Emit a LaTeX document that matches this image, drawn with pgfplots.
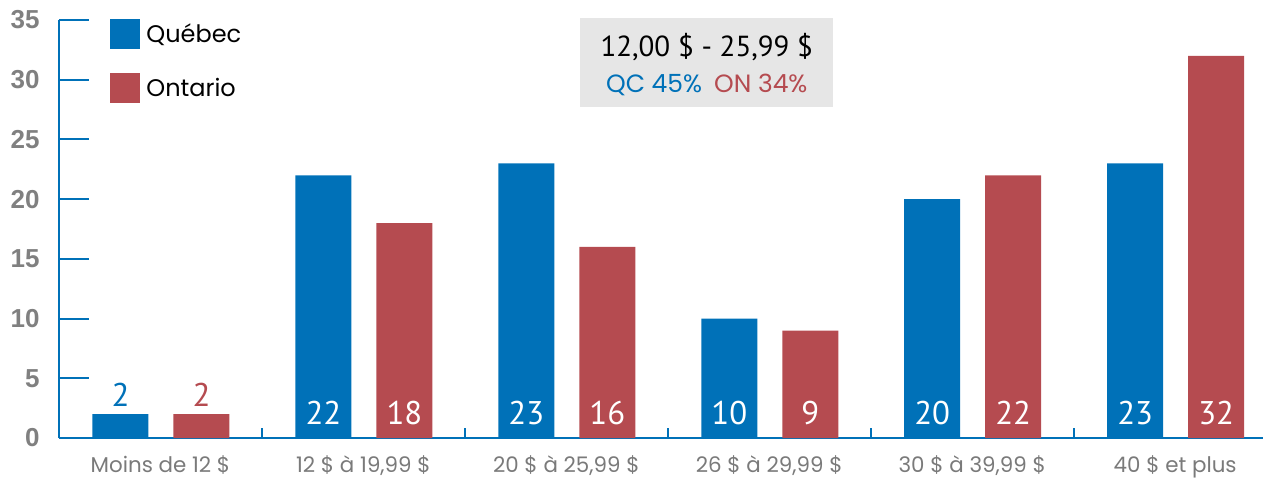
\documentclass[border=0pt]{standalone}
\usepackage{fontspec}
\setmainfont{Poppins}
\newfontfamily\ptsans{PT Sans}
\newfontfamily\tickfont{Liberation Sans}
\usepackage{pgfplots}
\pgfplotsset{compat=1.18}
\definecolor{qc}{RGB}{0,113,184}
\definecolor{on}{RGB}{181,75,80}
\definecolor{boxgray}{RGB}{230,230,230}
\definecolor{ygray}{RGB}{128,128,128}
\definecolor{xgray}{RGB}{122,122,122}

\pgfplotsset{
  barlabels/.style={
    visualization depends on={rawy \as \rawy},
    nodes near coords={\pgfmathtruncatemacro\v{\rawy}\ifnum\v>5 \color{white}\else\color{#1}\fi\v},
    every node near coord/.append style={anchor=center, inner sep=0pt,
      font=\ptsans\fontsize{16.4}{16}\selectfont,
      yshift={(\rawy>5)*(12.5-\rawy*5.9714)+(\rawy<=5)*9.5}},
  },
}

\begin{document}
\begin{tikzpicture}
\begin{axis}[
  name=ax,
  scale only axis,
  width=602pt, height=209pt,
  xmin=-0.5, xmax=5.433,
  ymin=0, ymax=35,
  clip=false,
  axis x line=bottom, axis y line=left,
  axis line style={qc, line width=1pt, -},
  ybar,
  ytick={0,5,...,35},
  xtick={0,...,5},
  xticklabels={{Moins de 12 \$},{12 \$ à 19,99 \$},{20 \$ à 25,99 \$},{26 \$ à 29,99 \$},{30 \$ à 39,99 \$},{40 \$ et plus}},
  minor xtick={0.5,1.5,2.5,3.5,4.5},
  every major x tick/.style={draw=none},
  tick align=inside,
  major tick length=15pt,
  minor tick length=5pt,
  tick style={qc, line width=1pt},
  /pgf/number format/assume math mode=true,
  yticklabel style={font=\tickfont\bfseries\fontsize{13}{13}\selectfont, text=ygray, inner sep=0pt, xshift=-9.5pt},
  xticklabel style={font=\fontsize{10.7}{12}\selectfont, text=xgray, anchor=base, yshift=-17pt},
  legend style={at={(rel axis cs:0,1)}, anchor=north west, xshift=25.5pt, yshift=0.5pt,
    draw=none, fill=none, inner sep=0pt, row sep=12pt,
    font=\fontsize{12}{12}\selectfont,
    /tikz/every odd column/.append style={column sep=1pt}},
  legend cell align=left,
]
\addplot[fill=qc, draw=none, bar width=28pt, bar shift=-20pt, barlabels=qc,
  legend image code/.code={\fill[qc] (0pt,-7.5pt) rectangle (15pt,7.5pt);}]
  coordinates {(0,2) (1,22) (2,23) (3,10) (4,20) (5,23)};
\addlegendentry{Québec}
\addplot[fill=on, draw=none, bar width=28pt, bar shift=20.5pt, barlabels=on,
  legend image code/.code={\fill[on] (0pt,-7.5pt) rectangle (15pt,7.5pt);}]
  coordinates {(0,2) (1,18) (2,16) (3,9) (4,22) (5,32)};
\addlegendentry{Ontario}

\node[fill=boxgray, minimum width=126.5pt, minimum height=44.5pt, inner sep=0pt] at (axis cs:2.692,31.45) {};
\node[font=\ptsans\fontsize{14.5}{14}\selectfont, inner sep=0pt] at (axis cs:2.692,32.75) {12,00 \$ - 25,99 \$};
\node[font=\fontsize{12.5}{12}\selectfont, inner sep=0pt] at (axis cs:2.692,29.56) {\textcolor{qc}{QC 45\%}\hspace{6pt}\textcolor{on}{ON 34\%}};
\coordinate (o) at (rel axis cs:0,0);
\end{axis}
\pgfresetboundingbox
\path ([shift={(-29.5pt,-20pt)}]o) rectangle ([shift={(602pt,219pt)}]o);
\end{tikzpicture}
\end{document}
